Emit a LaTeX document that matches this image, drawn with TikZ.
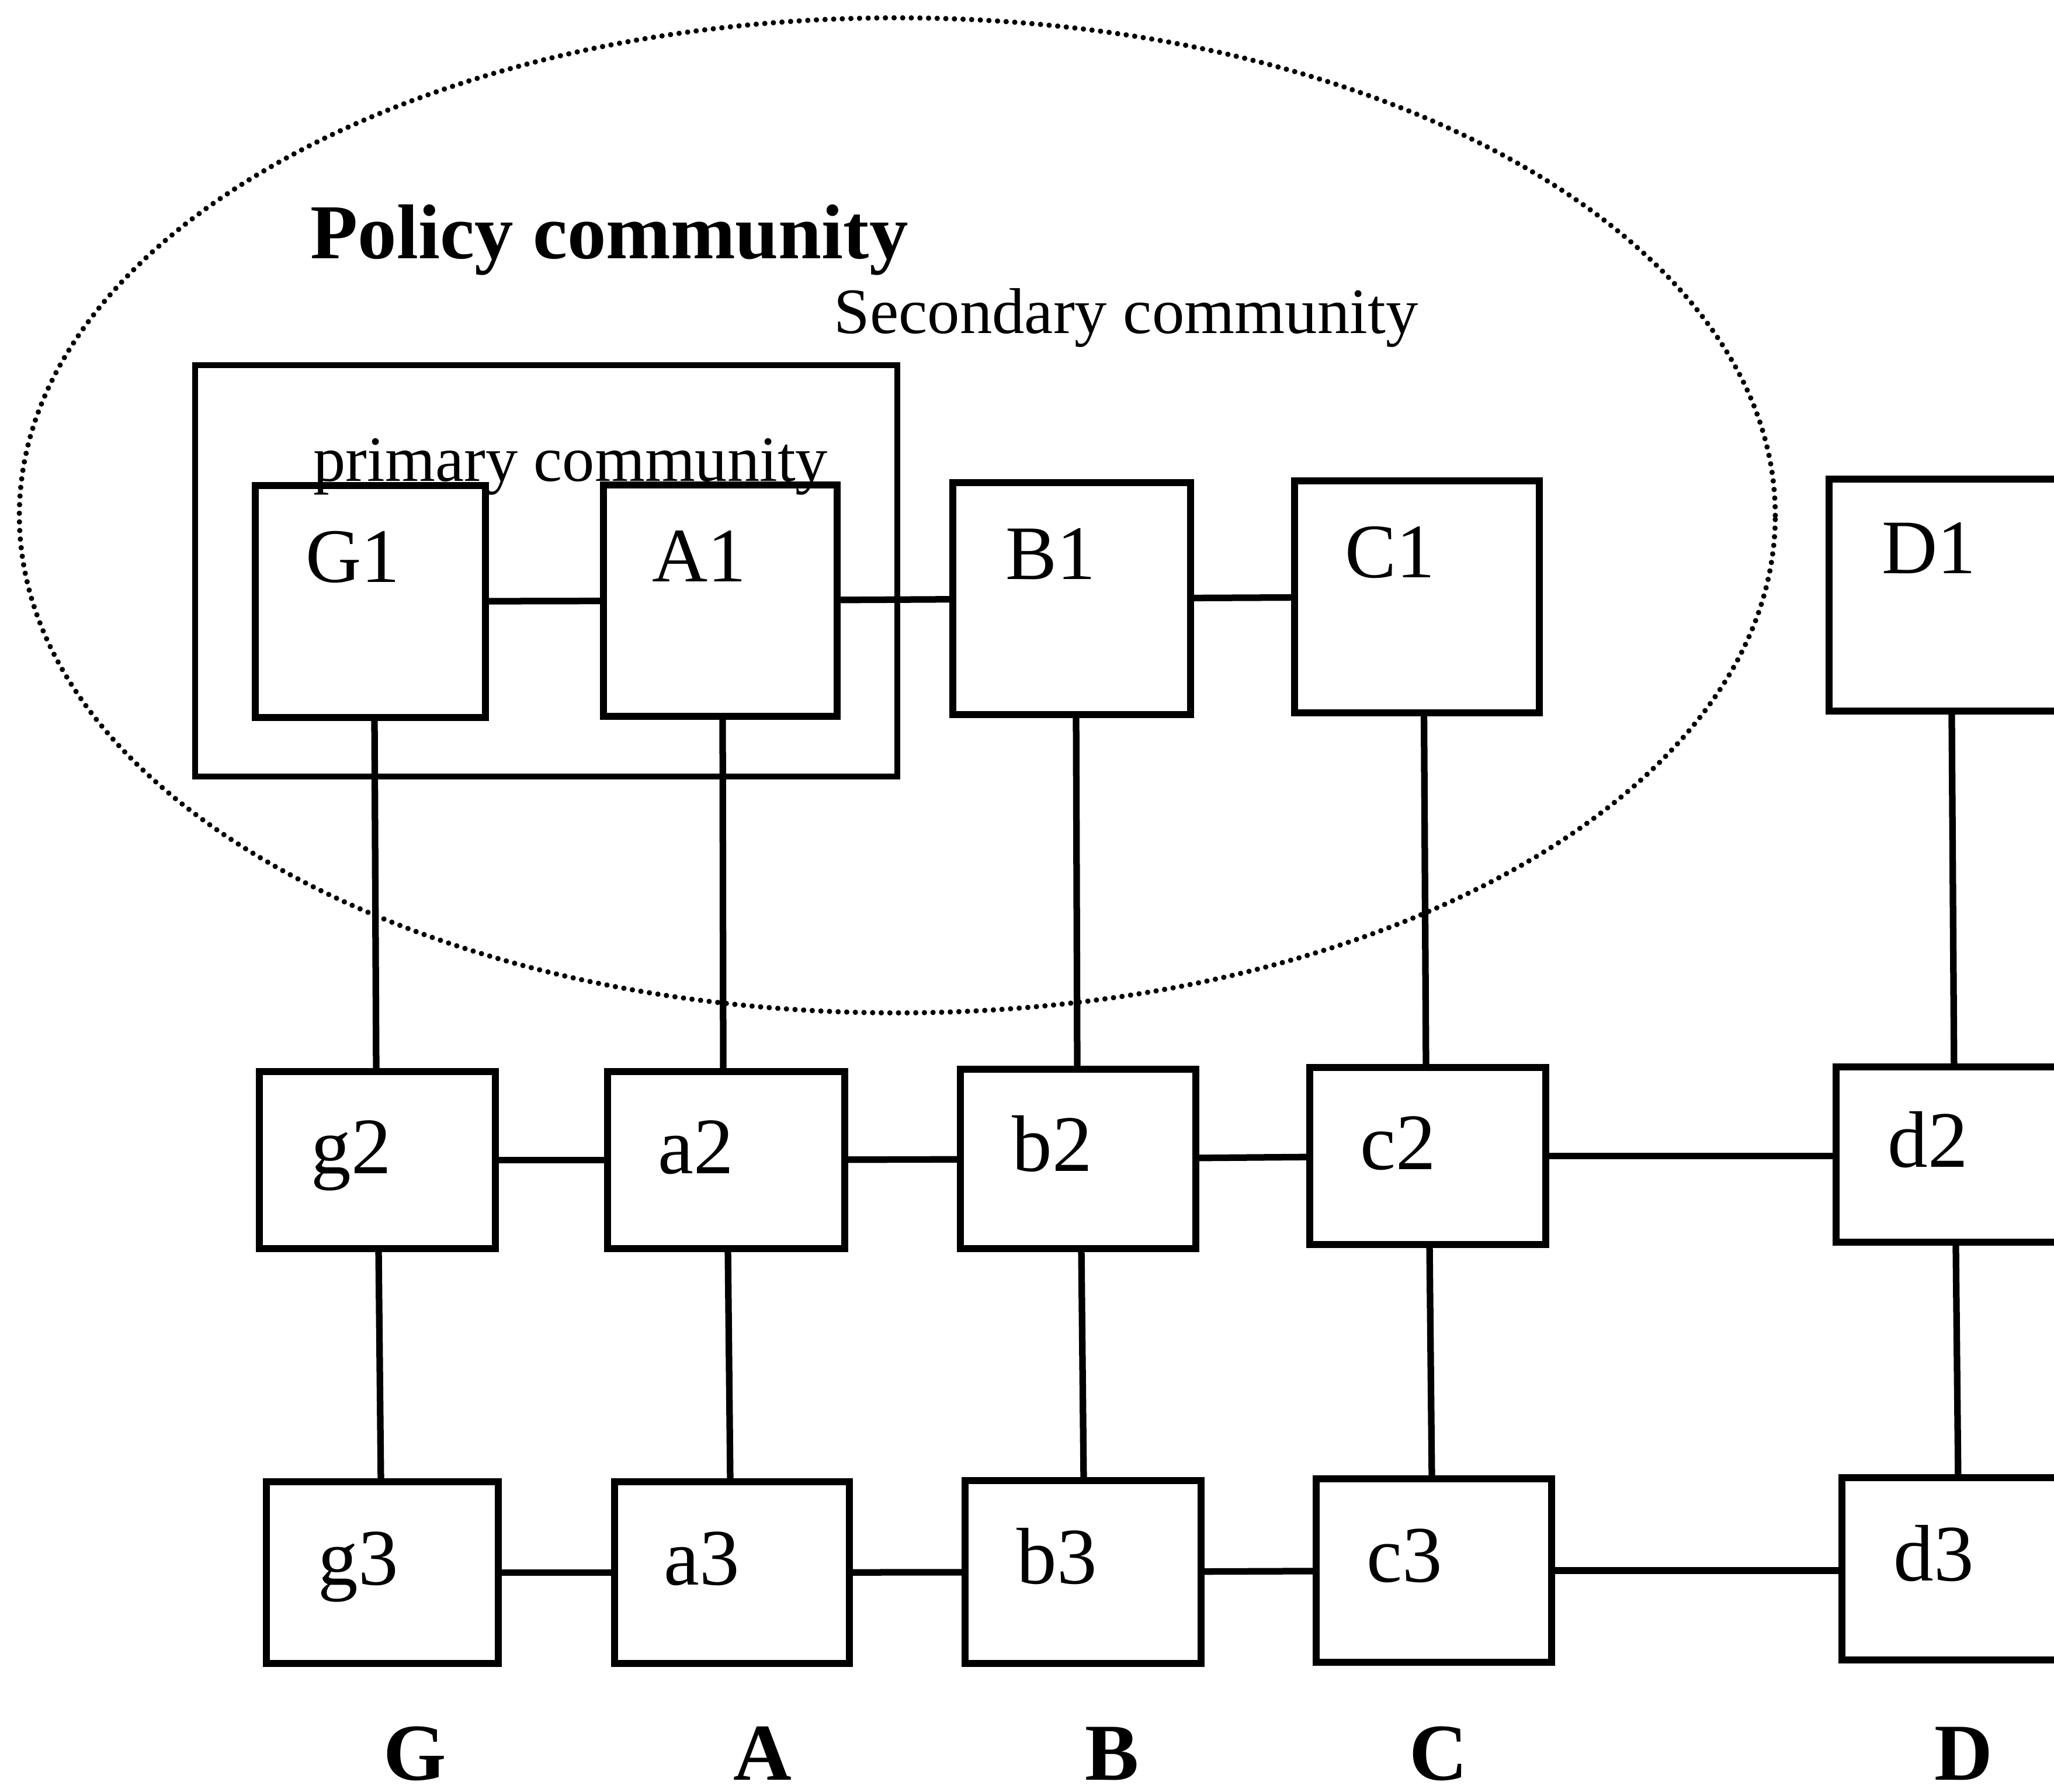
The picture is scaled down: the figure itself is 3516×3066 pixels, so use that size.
\documentclass[tikz,border=0pt]{standalone}
\usepackage{fontspec}
\setmainfont{Liberation Serif}
\usetikzlibrary{calc}
\begin{document}
\begin{tikzpicture}[x=0.01cm,y=-0.01cm,
  box/.style={draw, line width=3.3pt, rectangle, inner sep=0pt, outer sep=0pt},
  conn/.style={line width=3.2pt},
  lbl/.style={anchor=base west, inner sep=0pt, font=\fontsize{39}{39}\selectfont},
  ulbl/.style={lbl, font=\fontsize{37.5}{38}\selectfont},
  collbl/.style={anchor=base, inner sep=0pt, font=\bfseries\fontsize{39.3}{40}\selectfont},
  community/.style={line width=2.6pt, line cap=round, dash pattern=on 0pt off 4.2pt}]
\useasboundingbox (0,0) rectangle (3516,3066);

% secondary community (dotted ellipse)
\draw[community] (1536,882) ellipse [x radius=15.02cm, y radius=8.51cm];
% primary community frame
\draw[line width=3pt] (334,625) rectangle (1536,1329);

% row 1
\node[box, minimum width=3.94cm, minimum height=3.97cm] (G1) at (634,1029.5) {};
\node[box, minimum width=4.00cm, minimum height=3.96cm] (A1) at (1233,1028) {};
\node[box, minimum width=4.07cm, minimum height=3.97cm] (B1) at (1834.5,1024.5) {};
\node[box, minimum width=4.19cm, minimum height=3.97cm] (C1) at (2425.5,1021.5) {};
\node[box, minimum width=4.39cm, minimum height=3.97cm] (D1) at (3350.5,1018.5) {};
% row 2
\node[box, minimum width=4.04cm, minimum height=3.03cm] (g2) at (646,1985.5) {};
\node[box, minimum width=4.06cm, minimum height=3.03cm] (a2) at (1243,1985.5) {};
\node[box, minimum width=4.03cm, minimum height=3.07cm] (b2) at (1845.5,1983.5) {};
\node[box, minimum width=4.04cm, minimum height=3.03cm] (c2) at (2444,1978.5) {};
\node[box, minimum width=4.27cm, minimum height=3.00cm] (d2) at (3356.5,1976) {};
% row 3
\node[box, minimum width=3.97cm, minimum height=3.11cm] (g3) at (654.5,2691.5) {};
\node[box, minimum width=4.02cm, minimum height=3.11cm] (a3) at (1253,2691.5) {};
\node[box, minimum width=4.04cm, minimum height=3.13cm] (b3) at (1854,2690.5) {};
\node[box, minimum width=4.03cm, minimum height=3.14cm] (c3) at (2454.5,2688) {};
\node[box, minimum width=4.17cm, minimum height=3.12cm] (d3) at (3361.5,2685) {};

% horizontal connectors
\draw[conn] (G1) -- (A1);
\draw[conn] (A1) -- (B1);
\draw[conn] (B1) -- (C1);
\draw[conn] (g2) -- (a2);
\draw[conn] (a2) -- (b2);
\draw[conn] (b2) -- (c2);
\draw[conn] (c2.east) -- (c2.east -| d2.west);
\draw[conn] (g3) -- (a3);
\draw[conn] (a3) -- (b3);
\draw[conn] (b3) -- (c3);
\draw[conn] (c3.east) -- (c3.east -| d3.west);
% vertical connectors
\draw[conn] ($(G1.south)+(7,0)$) -- ($(g2.north)+(-2,0)$);
\draw[conn] ($(A1.south)+(4,0)$) -- ($(a2.north)+(-5,0)$);
\draw[conn] ($(B1.south)+(7.5,0)$) -- ($(b2.north)+(-1.5,0)$);
\draw[conn] ($(C1.south)+(12,0)$) -- ($(c2.north)+(-3,0)$);
\draw[conn] ($(D1.south west)+(210,0)$) -- ($(d2.north west)+(202,0)$);
\draw[conn] ($(g2.south)+(2,0)$) -- ($(g3.north)+(-2.5,0)$);
\draw[conn] ($(a2.south)+(3,0)$) -- ($(a3.north)+(-3,0)$);
\draw[conn] ($(b2.south)+(5.5,0)$) -- ($(b3.north)+(1,0)$);
\draw[conn] ($(c2.south)+(3,0)$) -- ($(c3.north)+(-3.5,0)$);
\draw[conn] ($(d2.south west)+(205,0)$) -- ($(d3.north west)+(199,0)$);

% box labels
\node[ulbl] (tG1) at ($(G1.north west)+(86,166)$) {G1};
\node[ulbl] (tA1) at ($(A1.north west)+(83,166)$) {A1};
\node[ulbl] (tB1) at ($(B1.north west)+(90,166)$) {B1};
\node[ulbl] (tC1) at ($(C1.north west)+(86,166)$) {C1};
\node[ulbl] (tD1) at ($(D1.north west)+(90,162)$) {D1};
\node[lbl] (tg2) at ($(g2.north west)+(88,175)$) {g2};
\node[lbl] (ta2) at ($(a2.north west)+(86,175)$) {a2};
\node[lbl] (tb2) at ($(b2.north west)+(88,175)$) {b2};
\node[lbl] (tc2) at ($(c2.north west)+(86,175)$) {c2};
\node[lbl] (td2) at ($(d2.north west)+(88,172)$) {d2};
\node[lbl] (tg3) at ($(g3.north west)+(88,177)$) {g3};
\node[lbl] (ta3) at ($(a3.north west)+(84,177)$) {a3};
\node[lbl] (tb3) at ($(b3.north west)+(88,177)$) {b3};
\node[lbl] (tc3) at ($(c3.north west)+(86,177)$) {c3};
\node[lbl] (td3) at ($(d3.north west)+(88,177)$) {d3};

% community titles
\node[anchor=base west, inner sep=0pt, font=\bfseries\fontsize{37.8}{38}\selectfont] (policy) at (531,442) {Policy community};
\node[anchor=base west, inner sep=0pt, font=\fontsize{31.5}{32}\selectfont] (secondary) at (1427,570) {Secondary community};
\node[anchor=base west, inner sep=0pt, font=\fontsize{31.4}{32}\selectfont] (primary) at (536,823) {primary community};

% column letters
\node[collbl] (colG) at (710,3046) {G};
\node[collbl] (colA) at (1305,3046) {A};
\node[collbl] (colB) at (1904,3046) {B};
\node[collbl] (colC) at (2462,3046) {C};
\node[collbl] (colD) at (3361,3046) {D};
\end{tikzpicture}
\end{document}
